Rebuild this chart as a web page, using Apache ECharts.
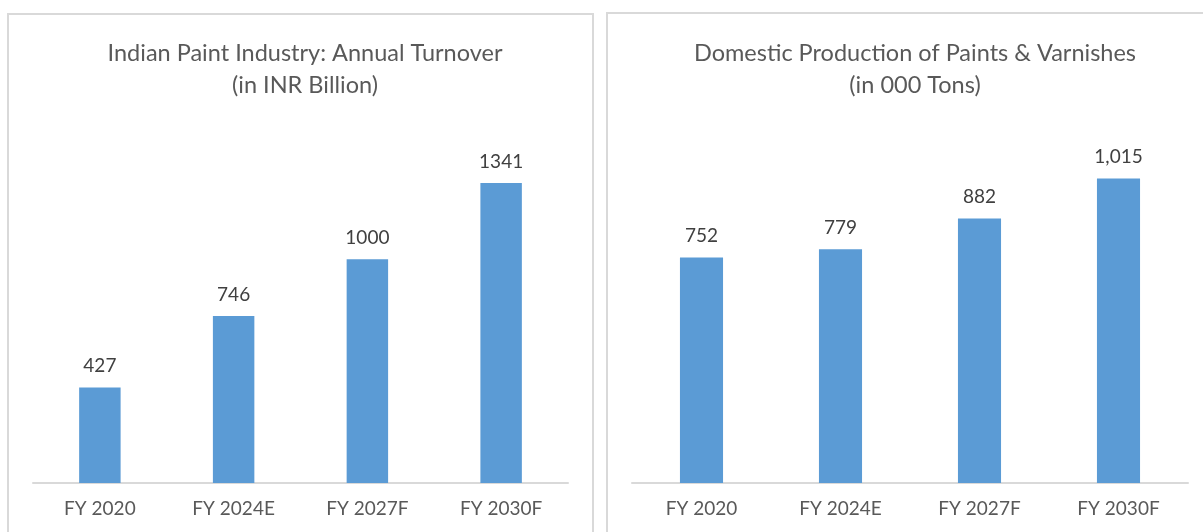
<!DOCTYPE html>
<html>
<head>
<meta charset="utf-8">
<script src="https://cdn.jsdelivr.net/npm/echarts@6/dist/echarts.min.js"></script>
<style>
  html, body { margin: 0; padding: 0; background: #fff; }
  #chart { width: 1203px; height: 532px; }
</style>
</head>
<body>
<div id="chart"></div>
<script>
const categories = ["FY 2020", "FY 2024E", "FY 2027F", "FY 2030F"];
const turnoverValues = [427, 746, 1000, 1341];
const productionValues = [752, 779, 882, 1015];
const turnoverLabels = ["427", "746", "1000", "1341"];
const productionLabels = ["752", "779", "882", "1,015"];

const barColor = '#5b9bd5';
const font = 'Lato, "Open Sans", sans-serif';

const myChart = echarts.init(document.getElementById("chart"));

function axisX(gridIndex) {
    return {
        type: 'category',
        gridIndex: gridIndex,
        data: categories,
        axisLine: { lineStyle: { color: '#d9d9d9', width: 2 } },
        axisTick: { show: false },
        axisLabel: {
            color: '#595959',
            fontFamily: font,
            fontSize: 19,
            margin: 16
        }
    };
}

function axisY(gridIndex, max) {
    return {
        type: 'value',
        gridIndex: gridIndex,
        min: 0,
        max: max,
        show: false
    };
}

function barSeries(index, values, labels) {
    return {
        type: 'bar',
        xAxisIndex: index,
        yAxisIndex: index,
        data: values,
        barWidth: '31%',
        itemStyle: { color: barColor },
        label: {
            show: true,
            position: 'top',
            distance: 12,
            color: '#404040',
            fontFamily: font,
            fontSize: 19,
            formatter: p => labels[p.dataIndex]
        }
    };
}

function titleStyle() {
    return {
        fontFamily: font,
        fontWeight: 'normal',
        fontSize: 23.5,
        lineHeight: 32,
        color: '#595959'
    };
}

const option = {
    animation: false,
    title: [
        {
            text: 'Indian Paint Industry: Annual Turnover\n(in INR Billion)',
            left: 300,
            top: 32,
            textAlign: 'center',
            textStyle: titleStyle()
        },
        {
            text: 'Domestic Production of Paints & Varnishes\n(in 000 Tons)',
            left: 910,
            top: 32,
            textAlign: 'center',
            textStyle: titleStyle()
        }
    ],
    graphic: [
        {
            type: 'rect',
            shape: { x: 8, y: 14, width: 585, height: 540 },
            style: { fill: 'none', stroke: '#d9d9d9', lineWidth: 2 }
        },
        {
            type: 'rect',
            shape: { x: 607, y: 13, width: 620, height: 540 },
            style: { fill: 'none', stroke: '#d9d9d9', lineWidth: 2 }
        }
    ],
    grid: [
        { left: 33, width: 535, top: 125, height: 358 },
        { left: 632, width: 556, top: 123, height: 360 }
    ],
    xAxis: [axisX(0), axisX(1)],
    yAxis: [axisY(0, 1600), axisY(1, 1200)],
    series: [
        barSeries(0, turnoverValues, turnoverLabels),
        barSeries(1, productionValues, productionLabels)
    ]
};

myChart.setOption(option);
</script>
</body>
</html>
